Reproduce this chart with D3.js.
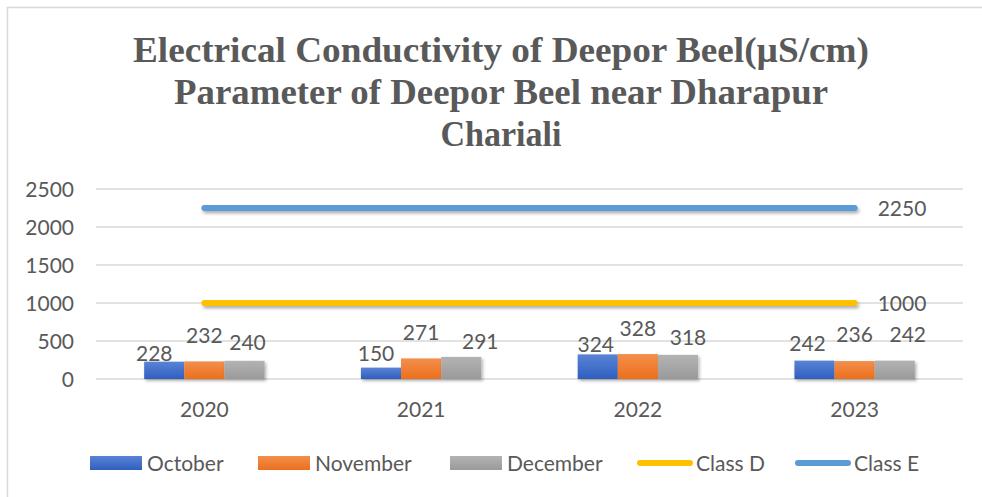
<!DOCTYPE html>
<html>
<head>
<meta charset="utf-8">
<script src="https://cdn.jsdelivr.net/npm/d3@7/dist/d3.min.js"></script>
<style>
  html, body { margin: 0; padding: 0; background: #fff; }
  svg { display: block; }
</style>
</head>
<body>
<svg id="chart" width="982" height="497"></svg>
<script>
// ---- data ----
const titleLines = [
  "Electrical Conductivity of Deepor Beel(\u00b5S/cm)",
  "Parameter of Deepor Beel near Dharapur",
  "Chariali"
];
const years = ["2020", "2021", "2022", "2023"];
const barSeries = ["October", "November", "December"];
const october = [228, 150, 324, 242];
const november = [232, 271, 328, 236];
const december = [240, 291, 318, 242];
const lineSeries = ["Class D", "Class E"];
const classD = [1000, 1000, 1000, 1000];
const classE = [2250, 2250, 2250, 2250];
const yTicks = [0, 500, 1000, 1500, 2000, 2500];

// ---- layout (not data) ----
const barColors = { October: ["#5a83d6", "#2f5fbe"], November: ["#f38f4c", "#ec6f1c"], December: ["#b3b3b3", "#9a9a9a"] };
const lineColors = { "Class D": "#ffc000", "Class E": "#5b9bd5" };
const titleWidths = [736, 654, 121];
// label nudges [dx, dy] relative to bar centre / bar top, per series per year
const labelNudge = {
  October:  [[-10, -1], [-5, -7], [-2, -2], [-7, -10]],
  November: [[0, -18], [0, -18], [0, -18], [0, -19]],
  December: [[3, -11], [19, -8], [10, -10], [13, -19]]
};

const svg = d3.select("#chart");
const textColor = "#595959";
const font = "Lato, 'Open Sans', sans-serif";
const fs = 21;

// defs: gradients and shadow
const defs = svg.append("defs");
barSeries.forEach((s, i) => {
  const g = defs.append("linearGradient").attr("id", "grad" + i)
    .attr("x1", 0).attr("y1", 0).attr("x2", 0).attr("y2", 1);
  g.append("stop").attr("offset", "0%").attr("stop-color", barColors[s][0]);
  g.append("stop").attr("offset", "100%").attr("stop-color", barColors[s][1]);
});
const f = defs.append("filter").attr("id", "shadow").attr("x", "-10%").attr("y", "-50%").attr("width", "130%").attr("height", "250%");
f.append("feDropShadow").attr("dx", 1.5).attr("dy", 2).attr("stdDeviation", 1.5).attr("flood-color", "#000").attr("flood-opacity", 0.3);
const fl = defs.append("filter").attr("id", "lshadow").attr("filterUnits", "userSpaceOnUse")
  .attr("x", 0).attr("y", 0).attr("width", 982).attr("height", 497);
fl.append("feDropShadow").attr("dx", 1.5).attr("dy", 2.5).attr("stdDeviation", 1.5).attr("flood-color", "#000").attr("flood-opacity", 0.3);

// chart border
svg.append("rect").attr("x", 7.5).attr("y", 7.5).attr("width", 1200).attr("height", 1200)
  .attr("fill", "none").attr("stroke", "#d9d9d9").attr("stroke-width", 1.5);

// title
svg.append("g").selectAll("text").data(titleLines).join("text")
  .attr("x", 501).attr("y", (d, i) => 62 + i * 42)
  .attr("text-anchor", "middle")
  .attr("font-family", "'Liberation Serif', 'Times New Roman', serif")
  .attr("font-weight", "bold").attr("font-size", 35)
  .attr("fill", textColor)
  .attr("textLength", (d, i) => titleWidths[i])
  .attr("lengthAdjust", "spacingAndGlyphs")
  .text(d => d);

// scales
const x0 = d3.scaleBand().domain(years).range([96, 963]).padding(0);
const groupW = x0.bandwidth() * 3 / 5.4;
const x1 = d3.scaleBand().domain(barSeries).range([-groupW / 2, groupW / 2]).padding(0);
const y = d3.scaleLinear().domain([0, 2500]).range([379, 189]);
const cx = d => x0(d) + x0.bandwidth() / 2;

// gridlines
svg.append("g").selectAll("line").data(yTicks).join("line")
  .attr("x1", 96).attr("x2", 963)
  .attr("y1", d => y(d)).attr("y2", d => y(d))
  .attr("stroke", "#d9d9d9").attr("stroke-width", 1.5);

// y axis labels
const yAxis = d3.axisLeft(y).tickValues(yTicks).tickSize(0).tickPadding(0).tickFormat(d3.format("d"));
const ya = svg.append("g").attr("transform", "translate(74,0)").call(yAxis);
ya.select(".domain").remove();
ya.selectAll("text").attr("font-family", font).attr("font-size", fs).attr("fill", textColor).attr("dy", "0.36em");

// x axis labels
const xAxis = d3.axisBottom(x0).tickSize(0).tickPadding(0);
const xa = svg.append("g").attr("transform", "translate(0,417)").call(xAxis);
xa.select(".domain").remove();
xa.selectAll("text").attr("font-family", font).attr("font-size", fs).attr("fill", textColor).attr("dy", 0);

// bars
const seriesData = { October: october, November: november, December: december };
const barG = svg.append("g");
barSeries.forEach((s, si) => {
  const vals = seriesData[s];
  barG.append("g").attr("filter", "url(#shadow)").selectAll("rect").data(years).join("rect")
    .attr("x", d => cx(d) + x1(s))
    .attr("width", x1.bandwidth())
    .attr("y", (d, i) => y(vals[i]))
    .attr("height", (d, i) => y(0) - y(vals[i]))
    .attr("fill", "url(#grad" + si + ")");
});
// bar labels
barSeries.forEach((s) => {
  const vals = seriesData[s];
  svg.append("g").selectAll("text").data(years).join("text")
    .attr("x", (d, i) => cx(d) + x1(s) + x1.bandwidth() / 2 + labelNudge[s][i][0])
    .attr("y", (d, i) => y(vals[i]) + labelNudge[s][i][1])
    .attr("text-anchor", "middle")
    .attr("font-family", font).attr("font-size", fs).attr("fill", textColor)
    .text((d, i) => vals[i]);
});

// lines
const lineData = { "Class D": classD, "Class E": classE };
const lineGen = d3.line().x(d => cx(d.year)).y(d => y(d.v));
lineSeries.forEach(s => {
  const pts = years.map((yr, i) => ({ year: yr, v: lineData[s][i] }));
  svg.append("path").datum(pts)
    .attr("d", lineGen)
    .attr("fill", "none")
    .attr("stroke", lineColors[s]).attr("stroke-width", 6)
    .attr("stroke-linecap", "round")
    .attr("filter", "url(#lshadow)");
  const last = pts[pts.length - 1];
  svg.append("text")
    .attr("x", cx(last.year) + 23).attr("y", y(last.v))
    .attr("dy", "0.4em")
    .attr("font-family", font).attr("font-size", fs).attr("fill", textColor)
    .text(last.v);
});

// legend
const legendItems = [
  { name: "October", type: "bar", x: 90, g: 0 },
  { name: "November", type: "bar", x: 258, g: 1 },
  { name: "December", type: "bar", x: 450, g: 2 },
  { name: "Class D", type: "line", x: 637 },
  { name: "Class E", type: "line", x: 795 }
];
const lg = svg.append("g");
legendItems.forEach(it => {
  if (it.type === "bar") {
    lg.append("rect").attr("x", it.x).attr("y", 456).attr("width", 52).attr("height", 14)
      .attr("fill", "url(#grad" + it.g + ")");
  } else {
    lg.append("line").attr("x1", it.x + 3).attr("x2", it.x + 53).attr("y1", 463).attr("y2", 463)
      .attr("stroke", lineColors[it.name]).attr("stroke-width", 6).attr("stroke-linecap", "round");
  }
  lg.append("text").attr("x", it.x + (it.type === "bar" ? 57 : 59)).attr("y", 463).attr("dy", "0.36em")
    .attr("font-family", font).attr("font-size", fs).attr("fill", textColor)
    .text(it.name);
});
</script>
</body>
</html>
